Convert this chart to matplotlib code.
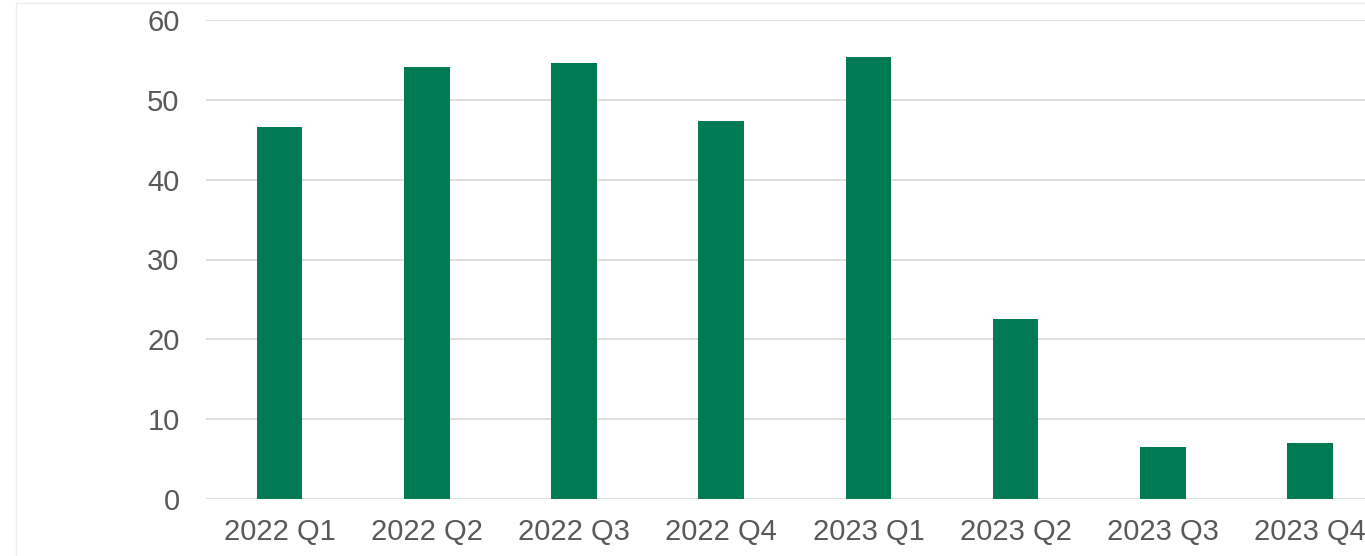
import matplotlib.pyplot as plt
import numpy as np
from matplotlib.patches import Rectangle

quarters = ["2022 Q1", "2022 Q2", "2022 Q3", "2022 Q4",
            "2023 Q1", "2023 Q2", "2023 Q3", "2023 Q4"]
values = [46.6, 54.1, 54.6, 47.35, 55.4, 22.55, 6.5, 7.0]
yticks = [0, 10, 20, 30, 40, 50, 60]

plt.rcParams["font.family"] = ["Liberation Sans", "DejaVu Sans"]

W, H = 1365, 556
fig = plt.figure(figsize=(W / 100, H / 100), dpi=100)
fig.patches.append(Rectangle((16 / W, -0.1), 1.2, 1 - 3 / H + 0.1,
                             transform=fig.transFigure, fill=False,
                             edgecolor="#EDEDED", lw=1))

cat = 147.2
ax = fig.add_axes([206 / W, 1 - 499 / H, 8 * cat / W, (499 - 20) / H])
x = np.arange(len(quarters))
ax.bar(x, values, width=0.31, color="#007A53", zorder=3)
ax.set_xlim(-0.5, len(quarters) - 0.5)
ax.set_ylim(0, 60)
ax.set_yticks(yticks)
ax.set_xticks(x)
ax.set_xticklabels(quarters)
ax.grid(axis="y", color="#D9D9D9", lw=1.2, zorder=0)
for s in ax.spines.values():
    s.set_visible(False)
ax.tick_params(axis="both", length=0, labelsize=21, colors="#595959")
ax.tick_params(axis="y", pad=19)
ax.tick_params(axis="x", pad=14)

fig.savefig("out.png", dpi=100)
